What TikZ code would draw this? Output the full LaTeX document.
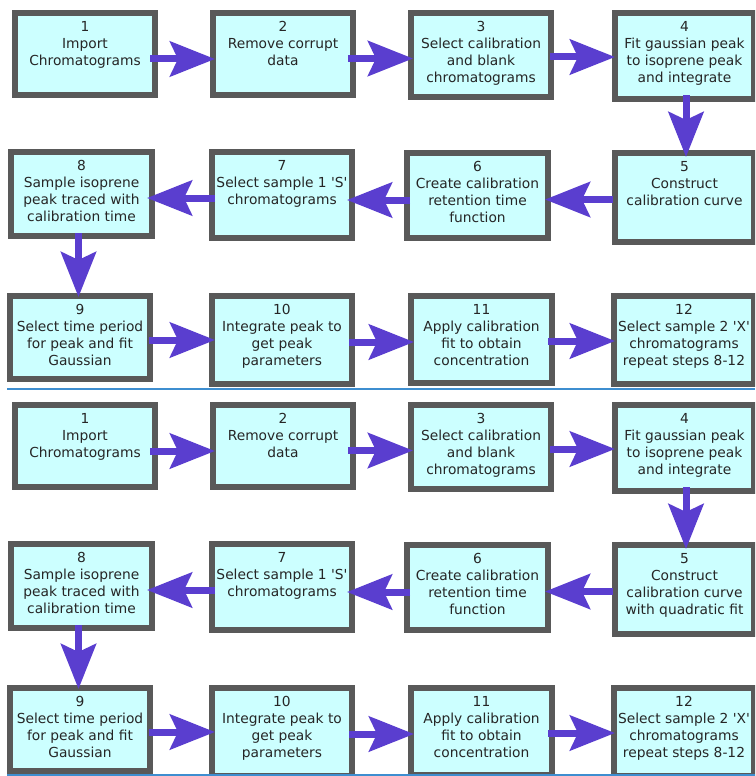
\documentclass[tikz,border=0pt]{standalone}
\usepackage{fontspec}
\setmainfont{DejaVu Sans}[Ligatures=TeXOff]
\usetikzlibrary{arrows.meta}
\definecolor{boxborder}{HTML}{595959}
\definecolor{boxfill}{HTML}{CCFFFF}
\definecolor{arrowcol}{HTML}{5A3ECF}
\definecolor{sepline}{HTML}{3E8ED0}
\definecolor{textcol}{HTML}{262626}

\newcommand\stepnode[6]{%
  \pgfmathsetmacro\cxx{((#2)+(#4))/2}\pgfmathsetmacro\cyy{((#3)+(#5))/2}%
  \pgfmathsetmacro\bww{(#4)-(#2)-6}\pgfmathsetmacro\bhh{(#5)-(#3)-6}%
  \node[stepbox, minimum width=\bww pt, minimum height=\bhh pt] (#1) at (\cxx,\cyy) {};
  \node[steptext] (#1t) at ([yshift=-11pt]#1.north) {#6};
}

\newcommand\flowpanel[3]{%
  \stepnode{#1b1}{12}{10+#2}{158}{98+#2}{1\\Import\\Chromatograms}
  \stepnode{#1b2}{210}{10+#2}{356}{98+#2}{2\\Remove corrupt\\data}
  \stepnode{#1b3}{408}{10+#2}{554}{100+#2}{3\\Select calibration\\and blank\\chromatograms}
  \stepnode{#1b4}{612}{10+#2}{757}{102+#2}{4\\Fit gaussian peak\\to isoprene peak\\and integrate}
  \stepnode{#1b5}{612}{150+#2}{757}{245+#2}{#3}
  \stepnode{#1b6}{404}{150+#2}{551}{241+#2}{6\\Create calibration\\retention time\\function}
  \stepnode{#1b7}{209}{149+#2}{355}{241+#2}{7\\Select sample 1 'S'\\chromatograms}
  \stepnode{#1b8}{8}{149+#2}{155}{239+#2}{8\\Sample isoprene\\peak traced with\\calibration time}
  \stepnode{#1b9}{7}{293+#2}{153}{382+#2}{9\\Select time period\\for peak and fit\\Gaussian}
  \stepnode{#1b10}{209}{293+#2}{355}{387+#2}{10\\Integrate peak to\\get peak\\parameters}
  \stepnode{#1b11}{408}{293+#2}{555}{386+#2}{11\\Apply calibration\\fit to obtain\\concentration}
  \stepnode{#1b12}{611}{293+#2}{757}{387+#2}{12\\Select sample 2 'X'\\chromatograms\\repeat steps 8-12}
  \draw[flow] ([xshift=-8pt,yshift=-5pt]#1b1.east) -- ([xshift=5pt,yshift=-5pt]#1b2.west);
  \draw[flow] ([xshift=-8pt,yshift=-4.5pt]#1b2.east) -- ([xshift=5pt,yshift=-3.5pt]#1b3.west);
  \draw[flow] ([xshift=-4pt,yshift=-2pt]#1b3.east) -- ([xshift=3pt,yshift=-1pt]#1b4.west);
  \draw[flow] ([xshift=1.5pt,yshift=7pt]#1b4.south) -- ([xshift=1.5pt,yshift=-7pt]#1b5.north);
  \draw[flow] ([xshift=1pt,yshift=-2pt]#1b5.west) -- ([xshift=-6pt,yshift=-4pt]#1b6.east);
  \draw[flow] ([xshift=6pt,yshift=-4.5pt]#1b6.west) -- ([xshift=-8pt,yshift=-5pt]#1b7.east);
  \draw[flow] ([xshift=6pt,yshift=-3pt]#1b7.west) -- ([xshift=-8pt,yshift=-4pt]#1b8.east);
  \draw[flow] ([xshift=-3pt,yshift=6pt]#1b8.south) -- ([xshift=-1.5pt,yshift=-4pt]#1b9.north);
  \draw[flow] ([xshift=-4pt,yshift=-2.5pt]#1b9.east) -- ([xshift=6pt,yshift=0pt]#1b10.west);
  \draw[flow] ([xshift=-6pt,yshift=-2pt]#1b10.east) -- ([xshift=6pt,yshift=-2.5pt]#1b11.west);
  \draw[flow] ([xshift=-7pt,yshift=-1.5pt]#1b11.east) -- ([xshift=4pt,yshift=-1pt]#1b12.west);
}

\begin{document}
\begin{tikzpicture}[x=1pt,y=-1pt,
  stepbox/.style={draw=boxborder, fill=boxfill, line width=6pt, inner sep=0pt},
  steptext/.style={anchor=north, align=center, inner sep=0pt, text=textcol,
    font=\fontsize{13.8}{17}\selectfont},
  flow/.style={draw=arrowcol, line width=7pt,
    -{Stealth[length=45pt,width=35pt,inset=8pt]}},
  sepstyle/.style={draw=sepline, line width=1.5pt}]
\useasboundingbox (0,0) rectangle (755,776);
\clip (0,0) rectangle (755,776);
\flowpanel{p}{0}{5\\Construct\\calibration curve}
\flowpanel{q}{392}{5\\Construct\\calibration curve\\with quadratic fit}
\coordinate (sepL) at (7,389);
\coordinate (sepR) at (755,389);
\draw[sepstyle] (sepL) -- (sepR);
\coordinate (botL) at (7,775);
\coordinate (botR) at (755,775);
\draw[sepstyle] (botL) -- (botR);
\end{tikzpicture}
\end{document}
